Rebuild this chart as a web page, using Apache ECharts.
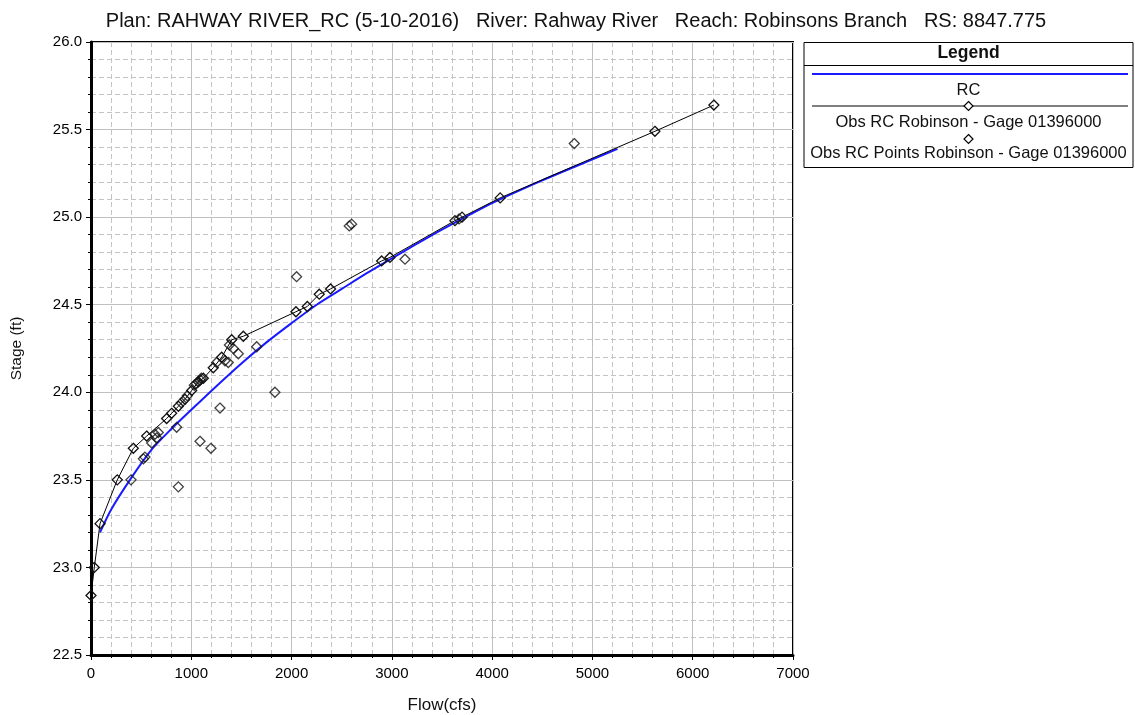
<!DOCTYPE html>
<html>
<head>
<meta charset="utf-8">
<title>Rating curve - Robinsons Branch</title>
<script src="https://cdn.jsdelivr.net/npm/echarts@6/dist/echarts.min.js"></script>
<style>
  html, body { margin: 0; padding: 0; background: #fff; }
  #chart { width: 1135px; height: 715px; }
</style>
</head>
<body>
<div id="chart"></div>
<script>
// Axis ticks
const flowTicks = [0, 1000, 2000, 3000, 4000, 5000, 6000, 7000];
const stageTicks = [22.5, 23.0, 23.5, 24.0, 24.5, 25.0, 25.5, 26.0];

// Computed rating curve (RC)
const rcFlow  = [90, 200, 400, 600, 800, 1000, 1250, 1500, 1750, 2000, 2250, 2500, 2750, 3000, 3300, 3600, 4000, 4500, 5000, 5250];
const rcStage = [23.20, 23.33, 23.51, 23.67, 23.79, 23.90, 24.035, 24.165, 24.285, 24.395, 24.50, 24.59, 24.68, 24.765, 24.865, 24.96, 25.08, 25.21, 25.33, 25.39];

// Observed rating curve at the gage
const obsFlow  = [0, 33, 90, 262, 422, 555, 754, 804, 871, 937, 1004, 1070, 1120, 1219, 1303, 1403, 1519, 2044, 2157, 2276, 2389, 2898, 2981, 3629, 3700, 4080, 5623, 6211];
const obsStage = [22.84, 23.00, 23.25, 23.50, 23.68, 23.75, 23.85, 23.88, 23.92, 23.96, 24.01, 24.06, 24.08, 24.14, 24.20, 24.30, 24.32, 24.46, 24.49, 24.56, 24.59, 24.75, 24.77, 24.98, 25.00, 25.11, 25.49, 25.64];

// Individual observed measurements
const ptFlow  = [399, 522, 538, 605, 638, 655, 671, 854, 871, 900, 960, 1030, 1050, 1087, 1090, 1100, 1196, 1253, 1286, 1336, 1369, 1380, 1419, 1469, 1652, 1834, 2050, 2575, 2599, 3131, 3670, 4819];
const ptStage = [23.50, 23.62, 23.63, 23.71, 23.76, 23.74, 23.77, 23.80, 23.46, 23.94, 23.98, 24.04, 24.05, 23.72, 24.07, 24.08, 23.68, 24.17, 23.91, 24.18, 24.17, 24.27, 24.25, 24.22, 24.26, 24.00, 24.66, 24.95, 24.96, 24.76, 24.99, 25.42];

const titleText = 'Plan: RAHWAY RIVER_RC (5-10-2016)   River: Rahway River   Reach: Robinsons Branch   RS: 8847.775';
const legendItems = ['RC', 'Obs RC Robinson - Gage 01396000', 'Obs RC Points Robinson - Gage 01396000'];

const zip = (xs, ys) => xs.map((x, i) => [x, ys[i]]);
const FONT = '"Liberation Sans", Arial, sans-serif';

const diamond = {
  symbol: 'diamond',
  symbolSize: [10, 10],
  itemStyle: { color: 'rgba(255,255,255,0)', borderColor: '#111', borderWidth: 1.3 }
};

const axisCommon = {
  type: 'value',
  axisLine: { show: true, onZero: false, lineStyle: { color: '#000', width: 3 } },
  axisTick: { show: true, inside: false, length: 5, lineStyle: { color: '#000', width: 1 } },
  minorTick: { show: true, splitNumber: 5, length: 3, lineStyle: { color: '#000', width: 1 } },
  splitLine: { show: true, lineStyle: { color: '#c0c0c0', width: 1, type: 'solid' } },
  minorSplitLine: { show: true, lineStyle: { color: '#c4c4c4', width: 1, type: [5, 3] } },
  axisLabel: { color: '#000', fontSize: 15, fontFamily: FONT },
  nameTextStyle: { color: '#111', fontFamily: FONT }
};

const chart = echarts.init(document.getElementById('chart'), null, { renderer: 'canvas' });

// Legend box drawn as a framed panel to the right of the plot
const LX = 804, LW = 329, LCX = LX + LW / 2;
const itemFont = '16.5px ' + FONT;
const legendGraphic = [
  { type: 'rect', shape: { x: LX, y: 42.5, width: LW, height: 125 }, style: { fill: '#fff', stroke: '#000', lineWidth: 1 } },
  { type: 'line', shape: { x1: LX, y1: 65.5, x2: LX + LW, y2: 65.5 }, style: { stroke: '#000', lineWidth: 1 } },
  { type: 'text', x: LCX, y: 53, style: { text: 'Legend', font: 'bold 17.5px ' + FONT, fill: '#111', align: 'center', verticalAlign: 'middle' } },
  { type: 'line', shape: { x1: 812, y1: 74, x2: 1128, y2: 74 }, style: { stroke: '#1a1aff', lineWidth: 2 } },
  { type: 'text', x: LCX, y: 90, style: { text: legendItems[0], font: itemFont, fill: '#111', align: 'center', verticalAlign: 'middle' } },
  { type: 'line', shape: { x1: 812, y1: 106, x2: 1128, y2: 106 }, style: { stroke: '#000', lineWidth: 1 } },
  { type: 'polygon', shape: { points: [[LCX, 101.5], [LCX + 4.5, 106], [LCX, 110.5], [LCX - 4.5, 106]] }, style: { fill: '#fff', stroke: '#000', lineWidth: 1.2 } },
  { type: 'text', x: LCX, y: 122, style: { text: legendItems[1], font: itemFont, fill: '#111', align: 'center', verticalAlign: 'middle' } },
  { type: 'polygon', shape: { points: [[LCX, 134.5], [LCX + 4.5, 139], [LCX, 143.5], [LCX - 4.5, 139]] }, style: { fill: '#fff', stroke: '#000', lineWidth: 1.2 } },
  { type: 'text', x: LCX, y: 153, style: { text: legendItems[2], font: itemFont, fill: '#111', align: 'center', verticalAlign: 'middle' } }
];

chart.setOption({
  animation: false,
  backgroundColor: '#fff',
  title: {
    text: titleText,
    left: 571, textAlign: 'center', top: 6,
    textStyle: { fontSize: 20, fontWeight: 'normal', color: '#111', fontFamily: FONT }
  },
  grid: {
    left: 91, top: 42, width: 702, height: 613,
    containLabel: false, outerBoundsMode: 'none',
    show: true, borderColor: '#000', borderWidth: 2, backgroundColor: '#fff'
  },
  xAxis: Object.assign({}, axisCommon, {
    min: flowTicks[0], max: flowTicks[flowTicks.length - 1], interval: flowTicks[1] - flowTicks[0],
    name: 'Flow(cfs)', nameLocation: 'middle', nameGap: 42,
    nameTextStyle: Object.assign({}, axisCommon.nameTextStyle, { fontSize: 17 }),
    axisLabel: Object.assign({}, axisCommon.axisLabel, { margin: 11, formatter: v => String(v) })
  }),
  yAxis: Object.assign({}, axisCommon, {
    min: stageTicks[0], max: stageTicks[stageTicks.length - 1], interval: stageTicks[1] - stageTicks[0],
    name: 'Stage (ft)', nameLocation: 'middle', nameGap: 66, nameRotate: 90,
    nameTextStyle: Object.assign({}, axisCommon.nameTextStyle, { fontSize: 15.5 }),
    axisLabel: Object.assign({}, axisCommon.axisLabel, { margin: 9, formatter: v => v.toFixed(1) })
  }),
  graphic: legendGraphic,
  series: [
    {
      name: legendItems[0], type: 'line', data: zip(rcFlow, rcStage),
      smooth: 0.25, showSymbol: false, z: 3,
      lineStyle: { color: '#1a1aff', width: 2 }
    },
    Object.assign({
      name: legendItems[1], type: 'line', data: zip(obsFlow, obsStage),
      showSymbol: true, z: 4,
      lineStyle: { color: '#000', width: 1 }
    }, diamond),
    Object.assign({
      name: legendItems[2], type: 'scatter', data: zip(ptFlow, ptStage), z: 5
    }, diamond)
  ]
});
</script>
</body>
</html>
